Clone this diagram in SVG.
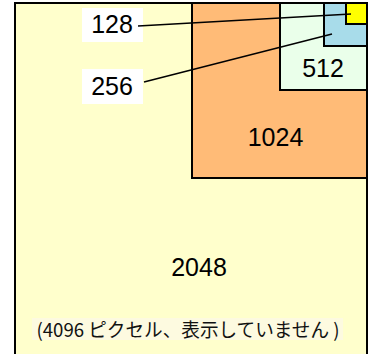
<svg xmlns="http://www.w3.org/2000/svg" width="378" height="354" viewBox="0 0 378 354">
<style>
.box{stroke:#000;stroke-width:2}
.num{font-family:"Liberation Sans",Arial,sans-serif;font-size:25px;fill:#000;text-anchor:middle}
.conn{stroke:#000;stroke-width:1.5;fill:none}
.lbl{fill:#fff}
.note{font-family:"Noto Sans CJK JP","Noto Sans",sans-serif;font-size:19px;fill:#111}
</style>
<rect width="378" height="354" fill="#fff"/>
<g id="n2048">
<rect class="box" x="15" y="3" width="352" height="352" fill="#ffffcc"/>
<text class="num" x="199" y="275.5">2048</text>
<rect x="32" y="318" width="311" height="22" fill="#fdfae0"/>
<text class="note" x="36.5" y="336.5" textLength="303" lengthAdjust="spacingAndGlyphs">(4096 ピクセル、表示していません )</text>
</g>
<g id="n1024">
<rect class="box" x="192" y="3" width="175" height="175" fill="#ffbb77"/>
<text class="num" x="275.5" y="146">1024</text>
</g>
<g id="n512">
<rect class="box" x="280" y="3" width="87" height="87" fill="#eaffea"/>
<text class="num" x="323" y="76.5">512</text>
</g>
<g id="n256">
<rect class="box" x="324" y="3" width="43" height="43" fill="#a8dcea"/>
</g>
<g id="n128">
<rect class="box" x="346" y="3" width="21" height="21" fill="#ffff00"/>
</g>
<g id="label128">
<rect class="lbl" x="82" y="8" width="61" height="34"/>
<text class="num" x="112" y="33">128</text>
</g>
<g id="label256">
<rect class="lbl" x="82" y="69" width="61" height="35"/>
<text class="num" x="112" y="95">256</text>
</g>
<g id="connectors">
<line class="conn" x1="138" y1="26" x2="351" y2="14"/>
<line class="conn" x1="144" y1="82" x2="332" y2="34"/>
</g>
</svg>
